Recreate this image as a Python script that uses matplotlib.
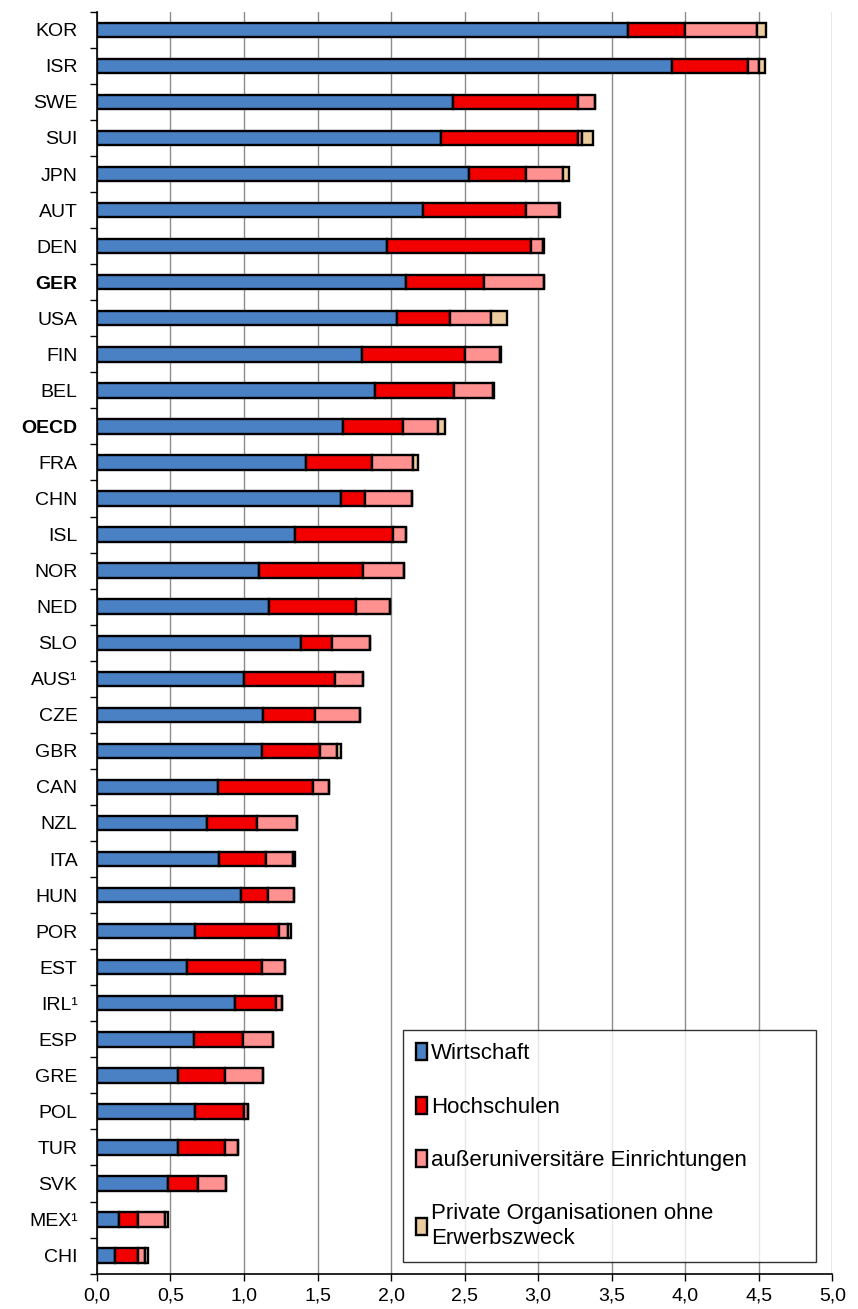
import matplotlib
matplotlib.use("Agg")
import matplotlib.pyplot as plt
from matplotlib.ticker import FixedLocator
import numpy as np

plt.rcParams['font.family'] = ['Liberation Sans', 'DejaVu Sans']

laender = ["KOR", "ISR", "SWE", "SUI", "JPN", "AUT", "DEN", "GER", "USA", "FIN",
           "BEL", "OECD", "FRA", "CHN", "ISL", "NOR", "NED", "SLO", "AUS¹", "CZE",
           "GBR", "CAN", "NZL", "ITA", "HUN", "POR", "EST", "IRL¹", "ESP", "GRE",
           "POL", "TUR", "SVK", "MEX¹", "CHI"]

# cumulative ends
ende_wirtschaft = [3.61, 3.91, 2.42, 2.34, 2.53, 2.22, 1.97, 2.10, 2.04, 1.80,
                   1.89, 1.67, 1.42, 1.66, 1.35, 1.10, 1.17, 1.39, 1.00, 1.13,
                   1.125, 0.82, 0.75, 0.83, 0.98, 0.67, 0.61, 0.94, 0.66, 0.55,
                   0.67, 0.55, 0.48, 0.15, 0.125]
ende_hochschulen = [4.00, 4.43, 3.27, 3.27, 2.92, 2.92, 2.95, 2.63, 2.40, 2.50,
                    2.43, 2.08, 1.87, 1.82, 2.01, 1.81, 1.76, 1.60, 1.62, 1.48,
                    1.52, 1.47, 1.09, 1.15, 1.16, 1.24, 1.12, 1.22, 0.99, 0.87,
                    1.00, 0.87, 0.69, 0.28, 0.28]
ende_ausseruni = [4.49, 4.50, 3.39, 3.30, 3.17, 3.14, 3.03, 3.04, 2.68, 2.74,
                  2.69, 2.32, 2.15, 2.14, 2.10, 2.09, 1.99, 1.86, 1.81, 1.79,
                  1.63, 1.58, 1.36, 1.33, 1.34, 1.30, 1.28, 1.26, 1.20, 1.13,
                  1.03, 0.96, 0.875, 0.46, 0.33]
ende_privat = [4.55, 4.54, 3.39, 3.37, 3.21, 3.15, 3.04, 3.04, 2.79, 2.75,
               2.70, 2.37, 2.18, 2.14, 2.10, 2.09, 1.99, 1.86, 1.81, 1.79,
               1.66, 1.58, 1.36, 1.35, 1.34, 1.32, 1.28, 1.26, 1.20, 1.13,
               1.03, 0.96, 0.875, 0.48, 0.35]

x_ticks = [0.0, 0.5, 1.0, 1.5, 2.0, 2.5, 3.0, 3.5, 4.0, 4.5, 5.0]

wirtschaft = np.array(ende_wirtschaft)
hochschulen = np.array(ende_hochschulen) - np.array(ende_wirtschaft)
ausseruni = np.array(ende_ausseruni) - np.array(ende_hochschulen)
privat = np.array(ende_privat) - np.array(ende_ausseruni)

serien = [
    ("Wirtschaft", wirtschaft, "#4a80c4"),
    ("Hochschulen", hochschulen, "#f20000"),
    ("außeruniversitäre Einrichtungen", ausseruni, "#ff9191"),
    ("Private Organisationen ohne\nErwerbszweck", privat, "#eccb9f"),
]

fig = plt.figure(figsize=(8.58, 13.09), dpi=100)
ax = fig.add_axes([0.113, 0.027, 0.857, 0.964])

n = len(laender)
y = np.arange(n)
links = np.zeros(n)
for name, werte, farbe in serien:
    ax.barh(y, werte, left=links, height=0.4, color=farbe, edgecolor="black",
            linewidth=1.7, label=name, zorder=3)
    links = links + werte

ax.set_xlim(0, 5)
ax.set_ylim(n - 0.5, -0.5)
ax.set_xticks(x_ticks)
ax.set_xticklabels([f"{v:.1f}".replace(".", ",") for v in x_ticks])
ax.grid(axis="x", color="#8c8c8c", linewidth=1.0, zorder=0)

ax.set_yticks(y)
ax.set_yticklabels(laender)
ax.yaxis.set_minor_locator(FixedLocator(np.arange(-0.5, n, 1.0)))
ax.tick_params(axis="y", which="major", length=0, pad=14, labelsize=14)
ax.tick_params(axis="y", which="minor", length=5, width=1, color="black")
ax.tick_params(axis="x", length=5, width=1, labelsize=14, pad=5)
for lbl in ax.get_yticklabels():
    if lbl.get_text() in ("GER", "OECD"):
        lbl.set_fontweight("bold")

ax.spines["top"].set_visible(False)
ax.spines["right"].set_visible(False)
ax.spines["left"].set_linewidth(1.2)
ax.spines["bottom"].set_linewidth(1.2)

leg = ax.legend(loc="lower left",
                bbox_to_anchor=(403 / 858, (1309 - 1262) / 1309, 413 / 858, 0.15),
                bbox_transform=fig.transFigure, mode="expand", fontsize=16,
                frameon=True, fancybox=False, edgecolor="black", labelspacing=1.45,
                handlelength=0.5, handleheight=0.8, handletextpad=0.15,
                borderpad=0.6, borderaxespad=0)
leg.get_frame().set_linewidth(1.0)
leg.set_zorder(5)

fig.savefig("out.png", dpi=100)
